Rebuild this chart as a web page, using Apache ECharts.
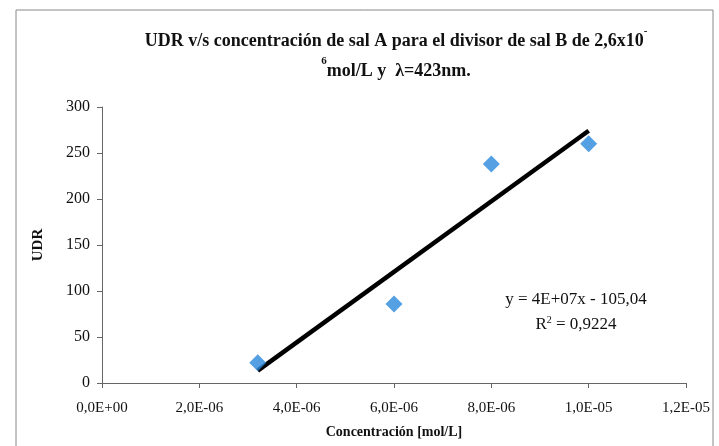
<!DOCTYPE html>
<html>
<head>
<meta charset="utf-8">
<script src="https://cdn.jsdelivr.net/npm/echarts@6/dist/echarts.min.js"></script>
<style>
  html, body { margin: 0; padding: 0; background: #ffffff; }
  #chart { width: 719px; height: 446px; }
</style>
</head>
<body>
<div id="chart"></div>
<script>
// Concentration of salt A (mol/L) and measured UDR
const concentration = [3.2e-6, 6.0e-6, 8.0e-6, 1.0e-5];
const udr = [22, 86, 238, 260];

// Axis ranges and steps
const xRange = [0, 1.2e-5];
const xStep = 2e-6;
const yRange = [0, 300];
const yStep = 50;

// Trend-line annotation text
const equationText = 'y = 4E+07x - 105,04';
const r2Value = '0,9224';

// Least-squares fit of the measured points
function linearFit(xs, ys) {
  const n = xs.length;
  const mx = xs.reduce((a, b) => a + b, 0) / n;
  const my = ys.reduce((a, b) => a + b, 0) / n;
  let sxy = 0, sxx = 0;
  for (let i = 0; i < n; i++) {
    sxy += (xs[i] - mx) * (ys[i] - my);
    sxx += (xs[i] - mx) * (xs[i] - mx);
  }
  const slope = sxy / sxx;
  return { slope: slope, intercept: my - slope * mx };
}
const fit = linearFit(concentration, udr);
const xMin = Math.min.apply(null, concentration);
const xMax = Math.max.apply(null, concentration);
const trendLine = [
  [xMin, fit.slope * xMin + fit.intercept],
  [xMax, fit.slope * xMax + fit.intercept]
];

// "2,0E-06" style scientific labels
function sciLabel(v) {
  const s = Number(v).toExponential(1);
  const parts = s.split('e');
  const mant = parts[0].replace('.', ',');
  let exp = parseInt(parts[1], 10);
  const sign = exp < 0 ? '-' : '+';
  exp = Math.abs(exp);
  return mant + 'E' + sign + (exp < 10 ? '0' + exp : '' + exp);
}

const serif = '"Liberation Serif", "DejaVu Serif", serif';

const chart = echarts.init(document.getElementById('chart'), null, { renderer: 'canvas' });
chart.setOption({
  animation: false,
  backgroundColor: '#ffffff',
  title: {
    text: '{t|UDR v/s concentración de sal A para el divisor de sal B de 2,6x10}{s|-}\n{s|6}{t|mol/L y  λ=423nm.}',
    left: 391,
    textAlign: 'center',
    top: 21,
    textStyle: {
      rich: {
        t: { fontFamily: serif, fontWeight: 'bold', fontSize: 18, color: '#111', lineHeight: 30 },
        s: { fontFamily: serif, fontWeight: 'bold', fontSize: 11, color: '#111', verticalAlign: 'top', padding: [0, 0, 11, 0] }
      }
    }
  },
  grid: { left: 102, right: 33, top: 107, bottom: 63, containLabel: false },
  xAxis: {
    type: 'value',
    min: xRange[0],
    max: xRange[1],
    interval: xStep,
    name: 'Concentración [mol/L]',
    nameLocation: 'middle',
    nameGap: 42,
    nameTextStyle: { fontFamily: serif, fontWeight: 'bold', fontSize: 14, color: '#111' },
    axisLine: { lineStyle: { color: '#666', width: 1 } },
    axisTick: { show: true, length: 5, lineStyle: { color: '#666' } },
    splitLine: { show: false },
    axisLabel: { fontFamily: serif, fontSize: 15, color: '#111', margin: 18, formatter: sciLabel }
  },
  yAxis: {
    type: 'value',
    min: yRange[0],
    max: yRange[1],
    interval: yStep,
    name: 'UDR',
    nameLocation: 'middle',
    nameRotate: 90,
    nameGap: 56,
    nameTextStyle: { fontFamily: serif, fontWeight: 'bold', fontSize: 15, color: '#111' },
    axisLine: { show: true, lineStyle: { color: '#666', width: 1 } },
    axisTick: { show: true, length: 5, lineStyle: { color: '#666' } },
    splitLine: { show: false },
    axisLabel: { fontFamily: serif, fontSize: 16, color: '#111', margin: 12 }
  },
  series: [
    {
      name: 'Tendencia',
      type: 'line',
      data: trendLine,
      symbol: 'none',
      lineStyle: { color: '#000', width: 4.5 },
      z: 2
    },
    {
      name: 'UDR',
      type: 'scatter',
      data: concentration.map((c, i) => [c, udr[i]]),
      symbol: 'diamond',
      symbolSize: [17, 17],
      itemStyle: { color: '#2a88dc' },
      z: 3
    }
  ],
  graphic: [
    {
      type: 'rect',
      shape: { x: 16, y: 10, width: 697, height: 445 },
      style: { fill: 'none', stroke: '#888', lineWidth: 1 },
      silent: true,
      z: -1
    },
    {
      type: 'text',
      x: 576,
      y: 300,
      style: {
        text: equationText,
        font: '17px ' + serif,
        fill: '#111',
        align: 'center',
        verticalAlign: 'middle'
      }
    },
    {
      type: 'text',
      x: 576,
      y: 325,
      style: {
        text: '{t|R}{s|2}{t| = ' + r2Value + '}',
        align: 'center',
        verticalAlign: 'middle',
        rich: {
          t: { font: '17px ' + serif, fill: '#111' },
          s: { font: '10px ' + serif, fill: '#111', verticalAlign: 'top', padding: [0, 0, 9, 0] }
        }
      }
    }
  ]
});
</script>
</body>
</html>
